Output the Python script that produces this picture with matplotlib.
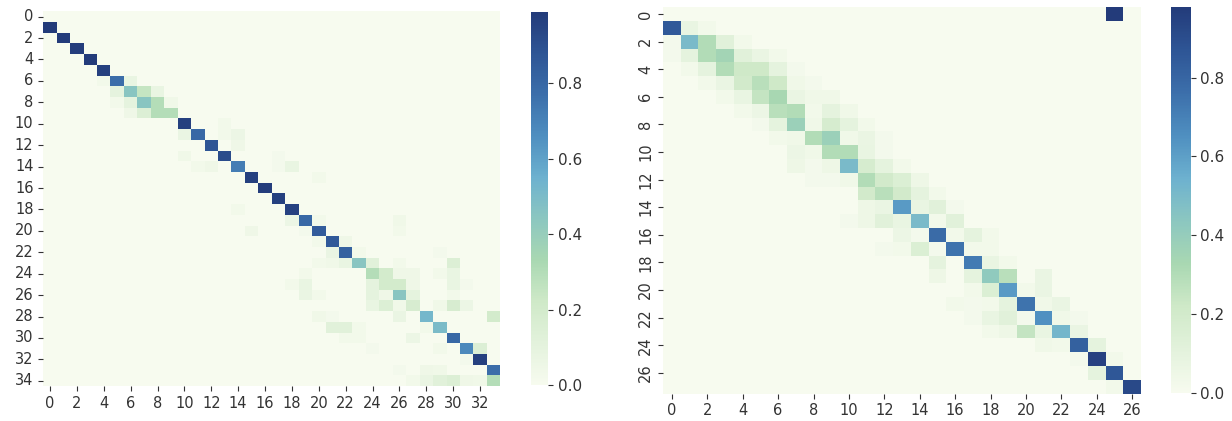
import numpy as np
import matplotlib
matplotlib.use("Agg")
import matplotlib.pyplot as plt
from matplotlib.colors import LinearSegmentedColormap
import seaborn as sns

# left matrix: 35 rows x 34 cols, right matrix: 28 rows x 27 cols
left_shape = (35, 34)
right_shape = (28, 27)
background = 0.0

# (row, col, value) for every visibly coloured cell
left_cells = [
    (1, 0, 0.99), (2, 1, 0.99), (3, 2, 0.98), (4, 3, 0.99), (5, 4, 0.97),
    (6, 4, 0.03), (6, 5, 0.78), (6, 6, 0.08),
    (7, 5, 0.10), (7, 6, 0.45), (7, 7, 0.25), (7, 8, 0.08),
    (8, 5, 0.03), (8, 6, 0.10), (8, 7, 0.45), (8, 8, 0.30), (8, 9, 0.04),
    (9, 6, 0.05), (9, 7, 0.15), (9, 8, 0.30), (9, 9, 0.30),
    (10, 10, 0.97), (10, 13, 0.03),
    (11, 10, 0.07), (11, 11, 0.80), (11, 13, 0.03), (11, 14, 0.06),
    (12, 12, 0.88), (12, 14, 0.05),
    (13, 10, 0.04), (13, 13, 0.92), (13, 17, 0.02),
    (14, 11, 0.03), (14, 12, 0.05), (14, 14, 0.72), (14, 17, 0.02), (14, 18, 0.08),
    (15, 15, 0.97), (15, 20, 0.03),
    (16, 16, 0.98),
    (17, 17, 0.97),
    (18, 14, 0.03), (18, 18, 0.96),
    (19, 18, 0.06), (19, 19, 0.80), (19, 20, 0.03), (19, 26, 0.04),
    (20, 15, 0.05), (20, 19, 0.02), (20, 20, 0.85), (20, 26, 0.03),
    (21, 20, 0.03), (21, 21, 0.86), (21, 22, 0.05),
    (22, 21, 0.07), (22, 22, 0.82), (22, 23, 0.03), (22, 29, 0.02),
    (23, 20, 0.03), (23, 21, 0.04), (23, 22, 0.08), (23, 23, 0.45), (23, 24, 0.12),
    (23, 26, 0.03), (23, 30, 0.15),
    (24, 19, 0.03), (24, 24, 0.30), (24, 25, 0.20), (24, 26, 0.05), (24, 27, 0.05),
    (24, 29, 0.03), (24, 30, 0.08),
    (25, 18, 0.03), (25, 19, 0.08), (25, 24, 0.10), (25, 25, 0.20), (25, 26, 0.20),
    (25, 27, 0.05), (25, 30, 0.08), (25, 31, 0.02),
    (26, 19, 0.07), (26, 20, 0.03), (26, 24, 0.10), (26, 25, 0.05), (26, 26, 0.45),
    (26, 27, 0.10), (26, 30, 0.03),
    (27, 24, 0.08), (27, 25, 0.15), (27, 26, 0.04), (27, 27, 0.18), (27, 29, 0.04),
    (27, 30, 0.18), (27, 31, 0.06),
    (28, 20, 0.04), (28, 21, 0.02), (28, 26, 0.07), (28, 28, 0.52), (28, 33, 0.20),
    (29, 21, 0.12), (29, 22, 0.12), (29, 23, 0.03), (29, 28, 0.03), (29, 29, 0.50),
    (30, 22, 0.03), (30, 23, 0.03), (30, 27, 0.06), (30, 30, 0.80),
    (31, 24, 0.02), (31, 29, 0.03), (31, 31, 0.68), (31, 32, 0.15),
    (32, 31, 0.02), (32, 32, 0.97),
    (33, 26, 0.02), (33, 28, 0.05), (33, 29, 0.04), (33, 33, 0.78),
    (34, 27, 0.03), (34, 28, 0.07), (34, 29, 0.12), (34, 30, 0.15), (34, 31, 0.05),
    (34, 32, 0.04), (34, 33, 0.30),
]

right_cells = [
    (0, 25, 0.98),
    (1, 0, 0.85), (1, 1, 0.08), (1, 2, 0.03),
    (2, 0, 0.02), (2, 1, 0.50), (2, 2, 0.30), (2, 3, 0.12), (2, 4, 0.03),
    (3, 0, 0.02), (3, 1, 0.10), (3, 2, 0.30), (3, 3, 0.35), (3, 4, 0.12), (3, 5, 0.07), (3, 6, 0.03),
    (4, 1, 0.03), (4, 2, 0.10), (4, 3, 0.30), (4, 4, 0.22), (4, 5, 0.22), (4, 6, 0.10), (4, 7, 0.02),
    (5, 2, 0.03), (5, 3, 0.07), (5, 4, 0.20), (5, 5, 0.28), (5, 6, 0.22), (5, 7, 0.04), (5, 8, 0.02),
    (6, 3, 0.03), (6, 4, 0.08), (6, 5, 0.25), (6, 6, 0.33), (6, 7, 0.07), (6, 8, 0.04), (6, 9, 0.04),
    (7, 4, 0.03), (7, 5, 0.06), (7, 6, 0.28), (7, 7, 0.30), (7, 8, 0.03), (7, 9, 0.10), (7, 10, 0.04),
    (8, 5, 0.02), (8, 6, 0.10), (8, 7, 0.38), (8, 8, 0.04), (8, 9, 0.18), (8, 10, 0.10), (8, 11, 0.03),
    (9, 6, 0.03), (9, 7, 0.04), (9, 8, 0.30), (9, 9, 0.38), (9, 10, 0.04), (9, 11, 0.07), (9, 12, 0.02),
    (10, 7, 0.06), (10, 8, 0.04), (10, 9, 0.30), (10, 10, 0.30), (10, 11, 0.08), (10, 12, 0.02),
    (11, 7, 0.05), (11, 8, 0.02), (11, 9, 0.05), (11, 10, 0.50), (11, 11, 0.18), (11, 12, 0.10),
    (11, 13, 0.03),
    (12, 8, 0.02), (12, 9, 0.02), (12, 10, 0.04), (12, 11, 0.30), (12, 12, 0.20), (12, 13, 0.15),
    (12, 14, 0.05),
    (13, 11, 0.20), (13, 12, 0.28), (13, 13, 0.20), (13, 14, 0.10), (13, 15, 0.03),
    (14, 11, 0.05), (14, 12, 0.07), (14, 13, 0.62), (14, 14, 0.08), (14, 15, 0.12), (14, 16, 0.02),
    (15, 10, 0.02), (15, 11, 0.05), (15, 12, 0.12), (15, 13, 0.08), (15, 14, 0.50), (15, 15, 0.03),
    (15, 16, 0.12),
    (16, 13, 0.06), (16, 14, 0.02), (16, 15, 0.78), (16, 16, 0.03), (16, 17, 0.10), (16, 18, 0.03),
    (17, 12, 0.02), (17, 13, 0.03), (17, 14, 0.15), (17, 15, 0.02), (17, 16, 0.75), (17, 17, 0.03),
    (17, 18, 0.03),
    (18, 15, 0.10), (18, 17, 0.72), (18, 18, 0.08), (18, 19, 0.03),
    (19, 15, 0.05), (19, 17, 0.10), (19, 18, 0.42), (19, 19, 0.28), (19, 21, 0.07),
    (20, 17, 0.03), (20, 18, 0.15), (20, 19, 0.62), (20, 20, 0.03), (20, 21, 0.07),
    (21, 16, 0.03), (21, 17, 0.02), (21, 18, 0.03), (21, 19, 0.10), (21, 20, 0.75), (21, 21, 0.04),
    (21, 22, 0.07),
    (22, 17, 0.02), (22, 18, 0.08), (22, 19, 0.12), (22, 20, 0.02), (22, 21, 0.65), (22, 22, 0.04),
    (22, 23, 0.02),
    (23, 18, 0.03), (23, 19, 0.05), (23, 20, 0.25), (23, 21, 0.08), (23, 22, 0.52), (23, 23, 0.07),
    (24, 21, 0.04), (24, 22, 0.03), (24, 23, 0.82), (24, 24, 0.10),
    (25, 23, 0.02), (25, 24, 0.95), (25, 25, 0.03),
    (26, 24, 0.10), (26, 25, 0.86),
    (27, 25, 0.03), (27, 26, 0.92),
]

# colours picked off the reference colourbars (a muted GnBu)
cmap_colors = ["#f7fbef", "#e3f2dc", "#cfe9c8", "#a9d8b2", "#8cc7c0",
               "#6db1cf", "#4f8fc0", "#3c6fab", "#2e5595", "#233b7a"]
cmap = LinearSegmentedColormap.from_list("gnbu_muted", cmap_colors)


def build_matrix(shape, cells):
    m = np.full(shape, background)
    for r, c, v in cells:
        m[r, c] = v
    return m


left = build_matrix(left_shape, left_cells)
right = build_matrix(right_shape, right_cells)

fig = plt.figure(figsize=(12.32, 4.21), dpi=100)

ax1 = fig.add_axes([0.0351, 0.0827, 0.371, 0.8905])
cax1 = fig.add_axes([0.4308, 0.0855, 0.0143, 0.8867])
ax2 = fig.add_axes([0.5382, 0.0653, 0.3879, 0.9178])
cax2 = fig.add_axes([0.9503, 0.0665, 0.0162, 0.9176])

sns.heatmap(left, ax=ax1, cbar_ax=cax1, cmap=cmap, xticklabels=2, yticklabels=2)
sns.heatmap(right, ax=ax2, cbar_ax=cax2, cmap=cmap, xticklabels=2, yticklabels=2)

for ax in (ax1, ax2):
    ax.tick_params(labelsize=10.5, colors="#333333")
    plt.setp(ax.get_xticklabels(), rotation=0)
plt.setp(ax1.get_yticklabels(), rotation=0)
plt.setp(ax2.get_yticklabels(), rotation=90, va="center")
for cax in (cax1, cax2):
    cax.tick_params(labelsize=11, colors="#333333")

fig.savefig("out.png", dpi=100)
